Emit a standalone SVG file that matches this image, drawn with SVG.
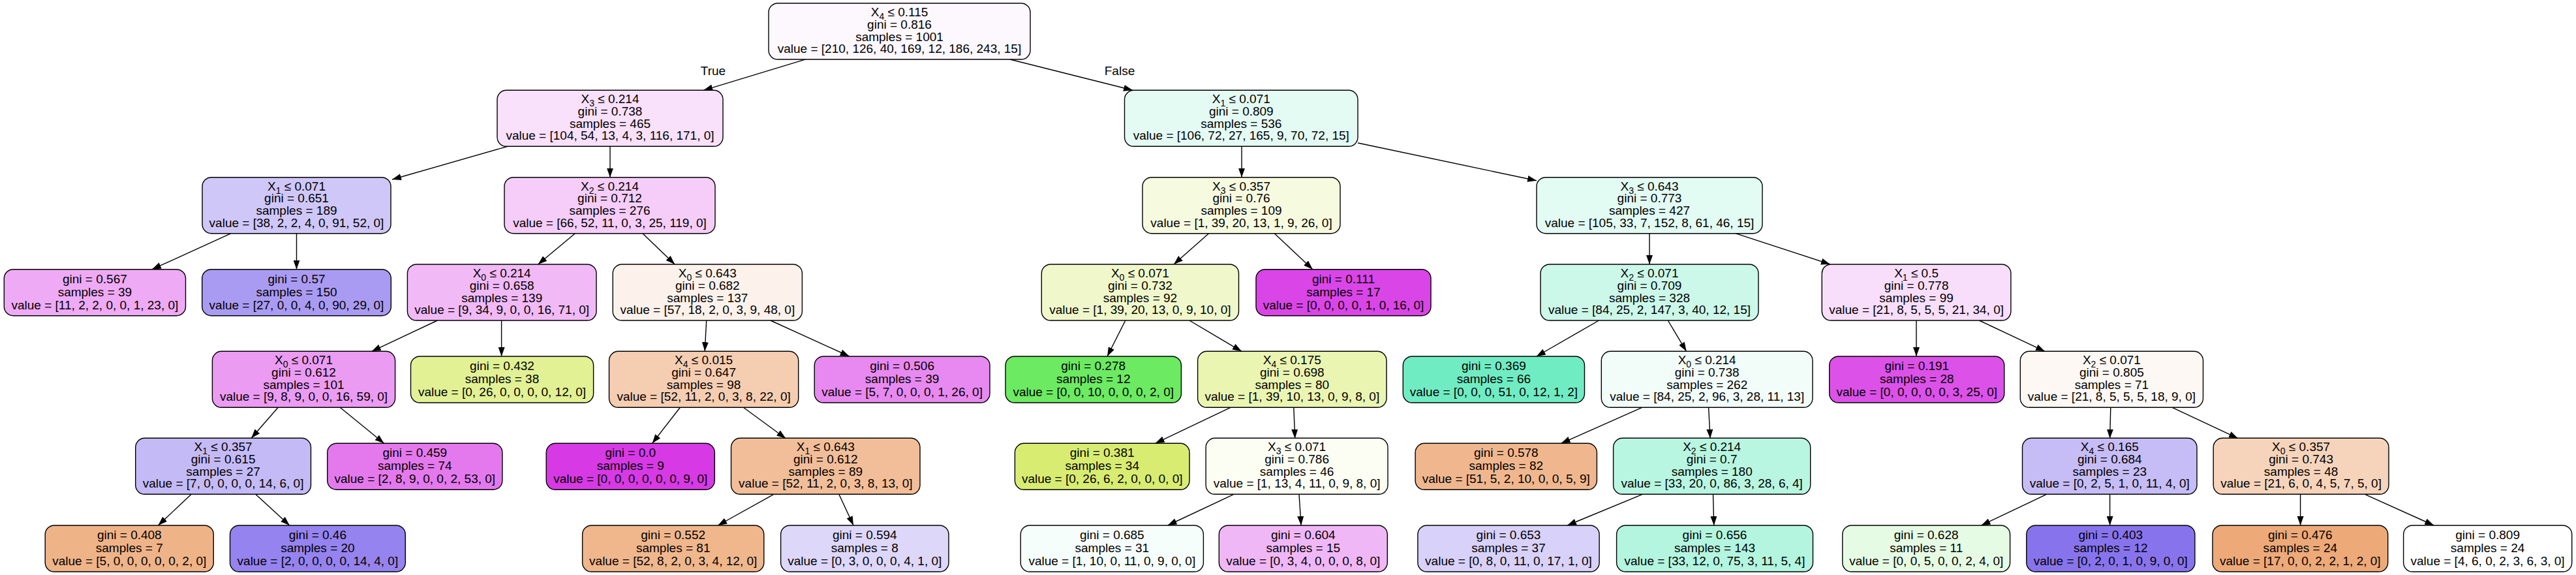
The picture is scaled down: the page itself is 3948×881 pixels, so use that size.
<svg xmlns="http://www.w3.org/2000/svg" width="3948" height="881" viewBox="0 0 3948 881">
<style>
.b{stroke:#000;stroke-width:1.4}
text{font-family:"Liberation Sans",Arial,Helvetica,sans-serif;font-size:19px;text-anchor:middle;fill:#000}
.s{font-size:14px}
.e line{stroke:#000;stroke-width:1.4;marker-end:url(#ah)}
</style>
<defs>
<marker id="ah" markerUnits="userSpaceOnUse" viewBox="0 0 14 10" markerWidth="14" markerHeight="10" refX="14" refY="5" orient="auto"><path d="M0,0 L14,5 L0,10 z" fill="#000"/></marker>
</defs>
<rect width="3948" height="881" fill="#fff"/>
<g id="edges" class="e">
<line x1="1235.6" y1="90.7" x2="1078.3" y2="138.3"/>
<line x1="1547" y1="90.7" x2="1736" y2="138.3"/>
<line x1="779" y1="224" x2="601" y2="275"/>
<line x1="935" y1="224" x2="935" y2="271.7"/>
<line x1="1903" y1="224" x2="1903" y2="271.7"/>
<line x1="2081" y1="219" x2="2355" y2="276.7"/>
<line x1="354" y1="357.7" x2="233" y2="412.7"/>
<line x1="454.5" y1="357.7" x2="454.5" y2="412.7"/>
<line x1="881.3" y1="357.7" x2="824.6" y2="405"/>
<line x1="985" y1="357.7" x2="1034.2" y2="405"/>
<line x1="1852.5" y1="357.7" x2="1799" y2="405"/>
<line x1="1953.3" y1="357.7" x2="2011.8" y2="412.7"/>
<line x1="2528" y1="357.7" x2="2528" y2="405"/>
<line x1="2660" y1="357.7" x2="2805" y2="405"/>
<line x1="670.4" y1="491" x2="569.7" y2="538.3"/>
<line x1="768.6" y1="491" x2="768.6" y2="546"/>
<line x1="1082.7" y1="491" x2="1080.2" y2="538.3"/>
<line x1="1180.9" y1="491" x2="1301.7" y2="546"/>
<line x1="1724.8" y1="491" x2="1697" y2="546"/>
<line x1="1822.9" y1="491" x2="1902.9" y2="538.3"/>
<line x1="2450.5" y1="491" x2="2354.8" y2="546"/>
<line x1="2556.3" y1="491" x2="2584.6" y2="538.3"/>
<line x1="2937" y1="491" x2="2937" y2="546"/>
<line x1="3033.4" y1="491" x2="3134" y2="538.3"/>
<line x1="426.2" y1="624.3" x2="385.2" y2="671.3"/>
<line x1="521.2" y1="624.3" x2="588.6" y2="679.3"/>
<line x1="1042.4" y1="624.3" x2="999.6" y2="679.3"/>
<line x1="1139.3" y1="624.3" x2="1204.2" y2="671.7"/>
<line x1="1885.9" y1="624.3" x2="1770.7" y2="679.3"/>
<line x1="1982.8" y1="624.3" x2="1984.7" y2="671.7"/>
<line x1="2516.6" y1="624.3" x2="2392.6" y2="679.3"/>
<line x1="2618.6" y1="624.3" x2="2621.1" y2="671.7"/>
<line x1="3234.8" y1="624.3" x2="3233.6" y2="671.7"/>
<line x1="3329.2" y1="624.3" x2="3430" y2="671.7"/>
<line x1="292.7" y1="757.7" x2="242.4" y2="805"/>
<line x1="392.2" y1="757.7" x2="443.8" y2="805"/>
<line x1="1185.3" y1="757.7" x2="1100.3" y2="805"/>
<line x1="1286" y1="757.7" x2="1308" y2="805"/>
<line x1="1890.3" y1="757.7" x2="1789.6" y2="805"/>
<line x1="1991" y1="757.7" x2="1994.1" y2="805"/>
<line x1="2516.6" y1="757.7" x2="2402" y2="805"/>
<line x1="2625.5" y1="757.7" x2="2626.8" y2="805"/>
<line x1="3136" y1="757.7" x2="3036.5" y2="805"/>
<line x1="3233.6" y1="757.7" x2="3233.6" y2="805"/>
<line x1="3525.6" y1="757.7" x2="3525.6" y2="805"/>
<line x1="3625" y1="757.7" x2="3730.2" y2="805"/>
<text x="1093" y="115">True</text>
<text x="1716" y="115">False</text>
</g>
<g id="n0"><rect class="b" x="1178" y="5" width="401" height="86" rx="14" fill="#fdf7fe"/><text x="1378.5" y="25">X<tspan class="s" dy="5">4</tspan><tspan dy="-5"> ≤ 0.115</tspan></text><text x="1378.5" y="43.5">gini = 0.816</text><text x="1378.5" y="62.5">samples = 1001</text><text x="1378.5" y="81">value = [210, 126, 40, 169, 12, 186, 243, 15]</text></g>
<g id="n1"><rect class="b" x="762" y="138.3" width="346" height="86" rx="14" fill="#f9e0fb"/><text x="935" y="158.3">X<tspan class="s" dy="5">3</tspan><tspan dy="-5"> ≤ 0.214</tspan></text><text x="935" y="176.8">gini = 0.738</text><text x="935" y="195.8">samples = 465</text><text x="935" y="214.3">value = [104, 54, 13, 4, 3, 116, 171, 0]</text></g>
<g id="n2"><rect class="b" x="1723.5" y="138.3" width="357.5" height="86" rx="14" fill="#e4fbf4"/><text x="1902.3" y="158.3">X<tspan class="s" dy="5">1</tspan><tspan dy="-5"> ≤ 0.071</tspan></text><text x="1902.3" y="176.8">gini = 0.809</text><text x="1902.3" y="195.8">samples = 536</text><text x="1902.3" y="214.3">value = [106, 72, 27, 165, 9, 70, 72, 15]</text></g>
<g id="n3"><rect class="b" x="310" y="271.7" width="289" height="86" rx="14" fill="#cfc7f8"/><text x="454.5" y="291.7">X<tspan class="s" dy="5">1</tspan><tspan dy="-5"> ≤ 0.071</tspan></text><text x="454.5" y="310.2">gini = 0.651</text><text x="454.5" y="329.2">samples = 189</text><text x="454.5" y="347.7">value = [38, 2, 2, 4, 0, 91, 52, 0]</text></g>
<g id="n4"><rect class="b" x="773" y="271.7" width="323" height="86" rx="14" fill="#f5cdf8"/><text x="934.5" y="291.7">X<tspan class="s" dy="5">2</tspan><tspan dy="-5"> ≤ 0.214</tspan></text><text x="934.5" y="310.2">gini = 0.712</text><text x="934.5" y="329.2">samples = 276</text><text x="934.5" y="347.7">value = [66, 52, 11, 0, 3, 25, 119, 0]</text></g>
<g id="n5"><rect class="b" x="1751" y="271.7" width="303" height="86" rx="14" fill="#f6fbe0"/><text x="1902.5" y="291.7">X<tspan class="s" dy="5">3</tspan><tspan dy="-5"> ≤ 0.357</tspan></text><text x="1902.5" y="310.2">gini = 0.76</text><text x="1902.5" y="329.2">samples = 109</text><text x="1902.5" y="347.7">value = [1, 39, 20, 13, 1, 9, 26, 0]</text></g>
<g id="n6"><rect class="b" x="2355" y="271.7" width="346" height="86" rx="14" fill="#e2fbf3"/><text x="2528" y="291.7">X<tspan class="s" dy="5">3</tspan><tspan dy="-5"> ≤ 0.643</tspan></text><text x="2528" y="310.2">gini = 0.773</text><text x="2528" y="329.2">samples = 427</text><text x="2528" y="347.7">value = [105, 33, 7, 152, 8, 61, 46, 15]</text></g>
<g id="n7"><rect class="b" x="6.3" y="412.7" width="278.2" height="71" rx="14" fill="#eeaaf4"/><text x="145.4" y="433.7">gini = 0.567</text><text x="145.4" y="453.7">samples = 39</text><text x="145.4" y="473.7">value = [11, 2, 2, 0, 0, 1, 23, 0]</text></g>
<g id="n8"><rect class="b" x="309.7" y="412.7" width="289.6" height="71" rx="14" fill="#aa9bf2"/><text x="454.5" y="433.7">gini = 0.57</text><text x="454.5" y="453.7">samples = 150</text><text x="454.5" y="473.7">value = [27, 0, 0, 4, 0, 90, 29, 0]</text></g>
<g id="n9"><rect class="b" x="624.4" y="405" width="289.6" height="86" rx="14" fill="#f1b9f6"/><text x="769.2" y="425">X<tspan class="s" dy="5">0</tspan><tspan dy="-5"> ≤ 0.214</tspan></text><text x="769.2" y="443.5">gini = 0.658</text><text x="769.2" y="462.5">samples = 139</text><text x="769.2" y="481">value = [9, 34, 9, 0, 0, 16, 71, 0]</text></g>
<g id="n10"><rect class="b" x="939.2" y="405" width="290.2" height="86" rx="14" fill="#fcf2eb"/><text x="1084.3" y="425">X<tspan class="s" dy="5">0</tspan><tspan dy="-5"> ≤ 0.643</tspan></text><text x="1084.3" y="443.5">gini = 0.682</text><text x="1084.3" y="462.5">samples = 137</text><text x="1084.3" y="481">value = [57, 18, 2, 0, 3, 9, 48, 0]</text></g>
<g id="n11"><rect class="b" x="1596.3" y="405" width="302.2" height="86" rx="14" fill="#f0f8cb"/><text x="1747.4" y="425">X<tspan class="s" dy="5">0</tspan><tspan dy="-5"> ≤ 0.071</tspan></text><text x="1747.4" y="443.5">gini = 0.732</text><text x="1747.4" y="462.5">samples = 92</text><text x="1747.4" y="481">value = [1, 39, 20, 13, 0, 9, 10, 0]</text></g>
<g id="n12"><rect class="b" x="1925" y="412.7" width="268" height="71" rx="14" fill="#da45e7"/><text x="2059" y="433.7">gini = 0.111</text><text x="2059" y="453.7">samples = 17</text><text x="2059" y="473.7">value = [0, 0, 0, 0, 1, 0, 16, 0]</text></g>
<g id="n13"><rect class="b" x="2361" y="405" width="334" height="86" rx="14" fill="#ccf8e9"/><text x="2528" y="425">X<tspan class="s" dy="5">2</tspan><tspan dy="-5"> ≤ 0.071</tspan></text><text x="2528" y="443.5">gini = 0.709</text><text x="2528" y="462.5">samples = 328</text><text x="2528" y="481">value = [84, 25, 2, 147, 3, 40, 12, 15]</text></g>
<g id="n14"><rect class="b" x="2792.3" y="405" width="289.6" height="86" rx="14" fill="#f8defb"/><text x="2937.1" y="425">X<tspan class="s" dy="5">1</tspan><tspan dy="-5"> ≤ 0.5</tspan></text><text x="2937.1" y="443.5">gini = 0.778</text><text x="2937.1" y="462.5">samples = 99</text><text x="2937.1" y="481">value = [21, 8, 5, 5, 5, 21, 34, 0]</text></g>
<g id="n15"><rect class="b" x="325.4" y="538.3" width="280.2" height="86" rx="14" fill="#eb9bf2"/><text x="465.5" y="558.3">X<tspan class="s" dy="5">0</tspan><tspan dy="-5"> ≤ 0.071</tspan></text><text x="465.5" y="576.8">gini = 0.612</text><text x="465.5" y="595.8">samples = 101</text><text x="465.5" y="614.3">value = [9, 8, 9, 0, 0, 16, 59, 0]</text></g>
<g id="n16"><rect class="b" x="629.5" y="546" width="280.1" height="71" rx="14" fill="#e1f194"/><text x="769.5" y="567">gini = 0.432</text><text x="769.5" y="587">samples = 38</text><text x="769.5" y="607">value = [0, 26, 0, 0, 0, 0, 12, 0]</text></g>
<g id="n17"><rect class="b" x="933.5" y="538.3" width="290.2" height="86" rx="14" fill="#f5cdb1"/><text x="1078.6" y="558.3">X<tspan class="s" dy="5">4</tspan><tspan dy="-5"> ≤ 0.015</tspan></text><text x="1078.6" y="576.8">gini = 0.647</text><text x="1078.6" y="595.8">samples = 98</text><text x="1078.6" y="614.3">value = [52, 11, 2, 0, 3, 8, 22, 0]</text></g>
<g id="n18"><rect class="b" x="1248.2" y="546" width="268.8" height="71" rx="14" fill="#e789f0"/><text x="1382.6" y="567">gini = 0.506</text><text x="1382.6" y="587">samples = 39</text><text x="1382.6" y="607">value = [5, 7, 0, 0, 0, 1, 26, 0]</text></g>
<g id="n19"><rect class="b" x="1541" y="546" width="269.4" height="71" rx="14" fill="#6cea61"/><text x="1675.7" y="567">gini = 0.278</text><text x="1675.7" y="587">samples = 12</text><text x="1675.7" y="607">value = [0, 0, 10, 0, 0, 0, 2, 0]</text></g>
<g id="n20"><rect class="b" x="1835.6" y="538.3" width="289.4" height="86" rx="14" fill="#eaf5b2"/><text x="1980.3" y="558.3">X<tspan class="s" dy="5">4</tspan><tspan dy="-5"> ≤ 0.175</tspan></text><text x="1980.3" y="576.8">gini = 0.698</text><text x="1980.3" y="595.8">samples = 80</text><text x="1980.3" y="614.3">value = [1, 39, 10, 13, 0, 9, 8, 0]</text></g>
<g id="n21"><rect class="b" x="2150.3" y="546" width="278.2" height="71" rx="14" fill="#70ecc3"/><text x="2289.4" y="567">gini = 0.369</text><text x="2289.4" y="587">samples = 66</text><text x="2289.4" y="607">value = [0, 0, 0, 51, 0, 12, 1, 2]</text></g>
<g id="n22"><rect class="b" x="2454.3" y="538.3" width="323.7" height="86" rx="14" fill="#f2fdf9"/><text x="2616.2" y="558.3">X<tspan class="s" dy="5">0</tspan><tspan dy="-5"> ≤ 0.214</tspan></text><text x="2616.2" y="576.8">gini = 0.738</text><text x="2616.2" y="595.8">samples = 262</text><text x="2616.2" y="614.3">value = [84, 25, 2, 96, 3, 28, 11, 13]</text></g>
<g id="n23"><rect class="b" x="2803.7" y="546" width="268.1" height="71" rx="14" fill="#dc51e8"/><text x="2937.8" y="567">gini = 0.191</text><text x="2937.8" y="587">samples = 28</text><text x="2937.8" y="607">value = [0, 0, 0, 0, 0, 3, 25, 0]</text></g>
<g id="n24"><rect class="b" x="3096.3" y="538.3" width="280.2" height="86" rx="14" fill="#fef8f4"/><text x="3236.4" y="558.3">X<tspan class="s" dy="5">2</tspan><tspan dy="-5"> ≤ 0.071</tspan></text><text x="3236.4" y="576.8">gini = 0.805</text><text x="3236.4" y="595.8">samples = 71</text><text x="3236.4" y="614.3">value = [21, 8, 5, 5, 5, 18, 9, 0]</text></g>
<g id="n25"><rect class="b" x="207.7" y="671.3" width="268.8" height="86" rx="14" fill="#c4baf6"/><text x="342.1" y="691.3">X<tspan class="s" dy="5">1</tspan><tspan dy="-5"> ≤ 0.357</tspan></text><text x="342.1" y="709.8">gini = 0.615</text><text x="342.1" y="728.8">samples = 27</text><text x="342.1" y="747.3">value = [7, 0, 0, 0, 0, 14, 6, 0]</text></g>
<g id="n26"><rect class="b" x="501.7" y="679.3" width="268.2" height="71" rx="14" fill="#e479ed"/><text x="635.8" y="700.3">gini = 0.459</text><text x="635.8" y="720.3">samples = 74</text><text x="635.8" y="740.3">value = [2, 8, 9, 0, 0, 2, 53, 0]</text></g>
<g id="n27"><rect class="b" x="837.2" y="679.3" width="258.1" height="71" rx="14" fill="#d739e5"/><text x="966.3" y="700.3">gini = 0.0</text><text x="966.3" y="720.3">samples = 9</text><text x="966.3" y="740.3">value = [0, 0, 0, 0, 0, 0, 9, 0]</text></g>
<g id="n28"><rect class="b" x="1120.5" y="671.3" width="289.5" height="86" rx="14" fill="#f2be99"/><text x="1265.3" y="691.3">X<tspan class="s" dy="5">1</tspan><tspan dy="-5"> ≤ 0.643</tspan></text><text x="1265.3" y="709.8">gini = 0.612</text><text x="1265.3" y="728.8">samples = 89</text><text x="1265.3" y="747.3">value = [52, 11, 2, 0, 3, 8, 13, 0]</text></g>
<g id="n29"><rect class="b" x="1555.4" y="679.3" width="267.6" height="71" rx="14" fill="#d8ec72"/><text x="1689.2" y="700.3">gini = 0.381</text><text x="1689.2" y="720.3">samples = 34</text><text x="1689.2" y="740.3">value = [0, 26, 6, 2, 0, 0, 0, 0]</text></g>
<g id="n30"><rect class="b" x="1848.1" y="671.3" width="278.9" height="86" rx="14" fill="#fcfef4"/><text x="1987.6" y="691.3">X<tspan class="s" dy="5">3</tspan><tspan dy="-5"> ≤ 0.071</tspan></text><text x="1987.6" y="709.8">gini = 0.786</text><text x="1987.6" y="728.8">samples = 46</text><text x="1987.6" y="747.3">value = [1, 13, 4, 11, 0, 9, 8, 0]</text></g>
<g id="n31"><rect class="b" x="2169.1" y="679.3" width="278.3" height="71" rx="14" fill="#f0b78e"/><text x="2308.3" y="700.3">gini = 0.578</text><text x="2308.3" y="720.3">samples = 82</text><text x="2308.3" y="740.3">value = [51, 5, 2, 10, 0, 0, 5, 9]</text></g>
<g id="n32"><rect class="b" x="2472.6" y="671.3" width="302.1" height="86" rx="14" fill="#b8f6e1"/><text x="2623.7" y="691.3">X<tspan class="s" dy="5">2</tspan><tspan dy="-5"> ≤ 0.214</tspan></text><text x="2623.7" y="709.8">gini = 0.7</text><text x="2623.7" y="728.8">samples = 180</text><text x="2623.7" y="747.3">value = [33, 20, 0, 86, 3, 28, 6, 4]</text></g>
<g id="n33"><rect class="b" x="3099.5" y="671.3" width="267.5" height="86" rx="14" fill="#c7bdf6"/><text x="3233.3" y="691.3">X<tspan class="s" dy="5">4</tspan><tspan dy="-5"> ≤ 0.165</tspan></text><text x="3233.3" y="709.8">gini = 0.684</text><text x="3233.3" y="728.8">samples = 23</text><text x="3233.3" y="747.3">value = [0, 2, 5, 1, 0, 11, 4, 0]</text></g>
<g id="n34"><rect class="b" x="3392.2" y="671.3" width="268.8" height="86" rx="14" fill="#f6d4bb"/><text x="3526.6" y="691.3">X<tspan class="s" dy="5">0</tspan><tspan dy="-5"> ≤ 0.357</tspan></text><text x="3526.6" y="709.8">gini = 0.743</text><text x="3526.6" y="728.8">samples = 48</text><text x="3526.6" y="747.3">value = [21, 6, 0, 4, 5, 7, 5, 0]</text></g>
<g id="n35"><rect class="b" x="69.2" y="805" width="258.1" height="71" rx="14" fill="#efb388"/><text x="198.3" y="826">gini = 0.408</text><text x="198.3" y="846">samples = 7</text><text x="198.3" y="866">value = [5, 0, 0, 0, 0, 0, 2, 0]</text></g>
<g id="n36"><rect class="b" x="352.5" y="805" width="268.8" height="71" rx="14" fill="#9583ef"/><text x="486.9" y="826">gini = 0.46</text><text x="486.9" y="846">samples = 20</text><text x="486.9" y="866">value = [2, 0, 0, 0, 0, 14, 4, 0]</text></g>
<g id="n37"><rect class="b" x="892.6" y="805" width="278.2" height="71" rx="14" fill="#f0b68c"/><text x="1031.7" y="826">gini = 0.552</text><text x="1031.7" y="846">samples = 81</text><text x="1031.7" y="866">value = [52, 8, 2, 0, 3, 4, 12, 0]</text></g>
<g id="n38"><rect class="b" x="1196.6" y="805" width="257.4" height="71" rx="14" fill="#ddd7fa"/><text x="1325.3" y="826">gini = 0.594</text><text x="1325.3" y="846">samples = 8</text><text x="1325.3" y="866">value = [0, 3, 0, 0, 0, 4, 1, 0]</text></g>
<g id="n39"><rect class="b" x="1564.2" y="805" width="280.2" height="71" rx="14" fill="#f6fefb"/><text x="1704.3" y="826">gini = 0.685</text><text x="1704.3" y="846">samples = 31</text><text x="1704.3" y="866">value = [1, 10, 0, 11, 0, 9, 0, 0]</text></g>
<g id="n40"><rect class="b" x="1868.3" y="805" width="258" height="71" rx="14" fill="#f0b7f6"/><text x="1997.3" y="826">gini = 0.604</text><text x="1997.3" y="846">samples = 15</text><text x="1997.3" y="866">value = [0, 3, 4, 0, 0, 0, 8, 0]</text></g>
<g id="n41"><rect class="b" x="2172.9" y="805" width="278.2" height="71" rx="14" fill="#d8d1f9"/><text x="2312" y="826">gini = 0.653</text><text x="2312" y="846">samples = 37</text><text x="2312" y="866">value = [0, 8, 0, 11, 0, 17, 1, 0]</text></g>
<g id="n42"><rect class="b" x="2477.6" y="805" width="300.9" height="71" rx="14" fill="#b3f5df"/><text x="2628" y="826">gini = 0.656</text><text x="2628" y="846">samples = 143</text><text x="2628" y="866">value = [33, 12, 0, 75, 3, 11, 5, 4]</text></g>
<g id="n43"><rect class="b" x="2823.8" y="805" width="256.8" height="71" rx="14" fill="#e5fbe3"/><text x="2952.2" y="826">gini = 0.628</text><text x="2952.2" y="846">samples = 11</text><text x="2952.2" y="866">value = [0, 0, 5, 0, 0, 2, 4, 0]</text></g>
<g id="n44"><rect class="b" x="3105.8" y="805" width="258.1" height="71" rx="14" fill="#8774ed"/><text x="3234.8" y="826">gini = 0.403</text><text x="3234.8" y="846">samples = 12</text><text x="3234.8" y="866">value = [0, 2, 0, 1, 0, 9, 0, 0]</text></g>
<g id="n45"><rect class="b" x="3391" y="805" width="268.7" height="71" rx="14" fill="#eda978"/><text x="3525.3" y="826">gini = 0.476</text><text x="3525.3" y="846">samples = 24</text><text x="3525.3" y="866">value = [17, 0, 0, 2, 2, 1, 2, 0]</text></g>
<g id="n46"><rect class="b" x="3683.6" y="805" width="258.1" height="71" rx="14" fill="#ffffff"/><text x="3812.6" y="826">gini = 0.809</text><text x="3812.6" y="846">samples = 24</text><text x="3812.6" y="866">value = [4, 6, 0, 2, 3, 6, 3, 0]</text></g>
</svg>
